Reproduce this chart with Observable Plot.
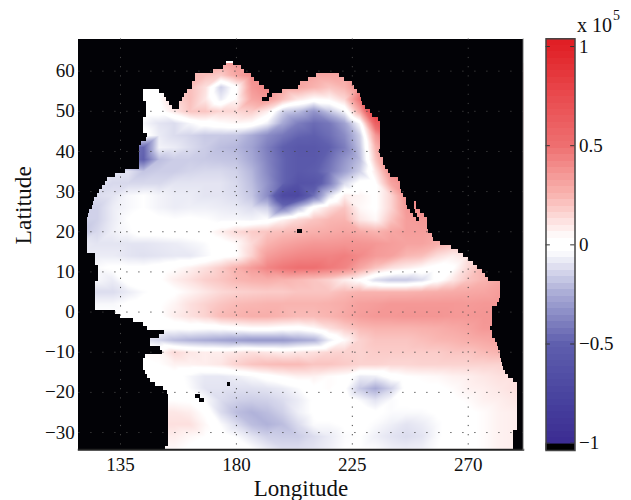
<!DOCTYPE html>
<html><head><meta charset="utf-8">
<script src="https://cdn.jsdelivr.net/npm/d3@7"></script>
<script src="https://cdn.jsdelivr.net/npm/@observablehq/plot@0.6"></script>
<style>html,body{margin:0;padding:0;background:#fff}#c{position:relative;width:631px;height:500px}#c svg{position:absolute;left:0;top:0;background:transparent!important}</style>
</head><body><div id="c"></div>
<script>
const lonGrid = [120,126,132,138,144,150,156,162,168,174,180,186,192,198,204,210,216,222,228,234,240,246,252,258,264,270,276,282,288,294];
const latGrid = [62,59,56,53,50,47,44,41,38,35,32,29,26,23,20,17,14,11,8,5,2,-1,-4,-7,-10,-13,-16,-19,-22,-25,-28,-31,-34];
const r62 = [0,0,0,0,0,0,0,.2,.25,.3,.35,.35,.35,.35,.35,.35,.35,.35,.35,.35,.35,.35,.35,.35,.35,.35,.35,.35,.35,.35];
const r59 = [.02,.02,.02,.02,.02,.02,.1,.25,.22,.18,.3,.4,.4,.35,.3,.3,.3,.3,.35,.5,.5,.5,.5,.5,.5,.5,.5,.5,.5,.5];
const r56 = [.02,.02,.02,.02,.02,.02,.1,.22,.12,-.15,.02,.35,.42,.3,.3,.25,.2,.25,.4,.6,.6,.6,.6,.6,.6,.6,.6,.6,.6,.6];
const r53 = [0,0,0,0,0,.03,.15,.22,.1,-.08,.05,.3,.35,.22,.1,.03,.05,.15,.5,.9,.9,.9,.9,.9,.9,.9,.9,.9,.9,.9];
const r50 = [0,0,0,0,0,0,.1,.2,.2,.15,.15,.18,.08,-.15,-.2,-.32,-.18,-.05,.3,.9,.9,.9,.9,.9,.9,.9,.9,.9,.9,.9];
const r47 = [-.05,-.05,-.05,-.05,-.05,-.1,-.12,-.05,0,.03,.05,.03,-.07,-.26,-.4,-.46,-.42,-.28,-.03,.6,.7,.7,.7,.7,.7,.7,.7,.7,.7,.7];
const r44 = [0,0,0,0,0,-.08,-.12,-.14,-.17,-.17,-.18,-.25,-.35,-.42,-.48,-.5,-.45,-.35,-.15,.35,.6,.6,.6,.6,.6,.6,.6,.6,.6,.6];
const r41 = [-.4,-.4,-.4,-.4,-.48,-.06,-.08,-.12,-.16,-.2,-.22,-.28,-.4,-.5,-.57,-.57,-.5,-.4,-.18,.25,.45,.45,.45,.45,.45,.45,.45,.45,.45,.45];
const r38 = [-.4,-.4,-.4,-.4,-.5,-.2,-.16,-.16,-.17,-.18,-.19,-.26,-.38,-.48,-.56,-.56,-.45,-.32,-.2,.2,.45,.45,.45,.45,.45,.45,.45,.45,.45,.45];
const r35 = [-.1,-.1,-.1,-.1,-.18,-.16,-.16,-.14,-.13,-.13,-.15,-.22,-.36,-.48,-.56,-.52,-.42,-.28,-.15,.1,.4,.45,.45,.45,.45,.45,.45,.45,.45,.45];
const r32 = [-.1,-.1,-.13,-.13,-.13,-.13,-.1,-.1,-.1,-.1,-.13,-.2,-.33,-.48,-.62,-.6,-.4,-.12,0,.02,.3,.4,.4,.4,.4,.4,.4,.4,.4,.4];
const r29 = [-.12,-.12,-.1,-.05,-.03,-.06,-.08,-.08,-.1,-.1,-.12,-.18,-.35,-.7,-.72,-.45,-.12,.08,.06,.02,.15,.38,.4,.4,.4,.4,.4,.4,.4,.4];
const r26 = [-.15,-.15,-.08,-.05,-.03,-.06,-.08,-.07,-.07,-.08,-.09,-.12,-.15,-.42,-.2,.02,.12,.2,.05,.02,.15,.35,.4,.4,.4,.4,.4,.4,.4,.4];
const r23 = [-.15,-.15,-.08,-.03,0,-.02,-.03,-.02,-.03,-.05,-.05,-.06,-.03,.06,.14,.2,.24,.25,.1,.05,.2,.33,.35,.35,.35,.35,.35,.35,.35,.35];
const r20 = [-.18,-.13,-.07,-.04,0,0,.01,.01,.02,.08,.14,.18,.2,.22,.24,.26,.28,.3,.28,.25,.3,.33,.33,.32,.32,.32,.32,.32,.32,.32];
const r17 = [-.08,-.1,-.1,-.1,-.1,-.09,-.08,-.06,-.04,0,.04,.14,.25,.3,.33,.35,.35,.36,.36,.35,.33,.31,.31,.27,.22,.22,.22,.22,.22,.22];
const r14 = [-.08,-.08,-.08,-.1,-.11,-.1,-.09,-.09,-.05,0,.03,.16,.33,.38,.41,.42,.42,.44,.4,.34,.32,.24,.22,.13,.08,.12,.12,.12,.12,.12];
const r11 = [-.04,-.04,-.02,-.02,-.02,0,.03,.07,.12,.18,.26,.34,.42,.47,.5,.5,.46,.42,.3,.2,.12,.08,.04,0,.02,.15,.25,.25,.25,.25];
const r8  = [-.05,-.05,-.08,0,.01,.02,.08,.12,.17,.2,.24,.26,.27,.25,.23,.2,.16,.08,.02,-.12,-.17,-.17,-.12,0,.1,.2,.25,.3,.3,.3];
const r5  = [-.12,-.12,-.12,-.08,-.04,-.01,.02,.06,.1,.14,.16,.17,.18,.18,.2,.2,.2,.23,.25,.25,.25,.25,.26,.27,.28,.29,.3,.33,.33,.33];
const r2  = [-.05,-.05,-.05,-.02,0,.02,.06,.12,.16,.2,.23,.24,.25,.25,.25,.25,.26,.28,.32,.33,.35,.35,.35,.35,.35,.34,.35,.35,.35,.35];
const r_1 = [-.02,-.02,-.02,-.02,0,.02,.08,.12,.16,.23,.25,.27,.27,.25,.23,.23,.25,.29,.33,.35,.35,.36,.36,.36,.35,.35,.36,.36,.36,.36];
const r_4 = [0,0,0,0,0,-.02,-.02,-.01,-.02,-.01,.01,.03,.03,.01,0,.04,.12,.18,.23,.25,.25,.25,.26,.27,.29,.31,.35,.35,.35,.35];
const r_7 = [-.1,-.1,-.1,-.1,-.1,-.14,-.2,-.23,-.25,-.27,-.29,-.31,-.31,-.31,-.27,-.24,-.08,.04,.16,.2,.2,.2,.22,.24,.25,.27,.29,.31,.31,.31];
const r_10= [.05,.05,.05,.05,.05,.05,.14,.1,.08,.08,.1,.12,.1,.08,.1,.12,.15,.16,.16,.18,.18,.18,.18,.18,.2,.2,.23,.25,.25,.25];
const r_13= [0,0,0,0,0,.03,.07,.07,.08,.1,.16,.2,.22,.23,.23,.2,.2,.18,.16,.16,.15,.15,.16,.16,.16,.16,.16,.16,.16,.16];
const r_16= [0,0,0,0,0,0,0,-.05,-.09,-.09,-.07,-.04,0,.04,.07,.07,.04,.02,-.08,-.07,0,.03,.04,.05,.07,.08,.1,.12,.12,.12];
const r_19= [0,0,0,0,0,0,.02,-.04,-.1,-.1,-.11,-.11,-.1,-.08,-.04,.02,.04,-.02,-.17,-.25,-.15,0,.02,.02,.04,.07,.08,.1,.12,.12];
const r_22= [.03,.03,.03,.03,.03,.03,.03,.02,-.04,-.12,-.15,-.16,-.15,-.12,-.08,-.02,.02,.02,-.04,-.1,-.04,-.02,-.01,0,.02,.04,.07,.08,.1,.1];
const r_25= [.1,.1,.1,.1,.1,.1,.1,.08,.02,-.12,-.2,-.23,-.2,-.15,-.07,-.02,0,.02,.02,-.02,-.04,-.04,-.04,-.02,0,.02,.04,.07,.08,.08];
const r_28= [.12,.12,.12,.12,.12,.12,.12,.12,.05,-.04,-.12,-.2,-.23,-.2,-.12,-.04,-.04,-.02,-.02,-.04,-.07,-.1,-.08,-.04,0,.02,.04,.07,.08,.08];
const r_31= [.08,.08,.08,.08,.08,.08,.08,.05,.03,0,-.04,-.1,-.15,-.16,-.16,-.12,-.08,-.04,-.03,-.07,-.1,-.12,-.1,-.04,0,.02,.04,.07,.08,.08];
const r_34= [.05,.05,.05,.05,.05,.05,.05,.02,0,0,0,-.03,-.08,-.12,-.12,-.1,-.07,-.03,-.03,-.04,-.07,-.08,-.07,-.03,0,.02,.04,.07,.08,.08];
const valueRows = [r62,r59,r56,r53,r50,r47,r44,r41,r38,r35,r32,r29,r26,r23,r20,r17,r14,r11,r8,r5,r2,r_1,r_4,r_7,r_10,r_13,r_16,r_19,r_22,r_25,r_28,r_31,r_34];

// ocean extent per 1-degree latitude row
const coastLat = [62,61,60,59,58,57,56,55,54,53,52,51,50,49,48,47,46,45,44,43,42,41,40,39,38,37,36,35,34,33,32,31,30,29,28,27,26,25,24,23,22,21,20,19,18,17,16,15,14,13,12,11,10,9,8,7,6,5,4,3,2,1,0,-1,-2,-3,-4,-5,-6,-7,-8,-9,-10,-11,-12,-13,-14,-15,-16,-17,-18,-19,-20,-21,-22,-23,-24,-25,-26,-27,-28,-29,-30,-31,-32,-33,-34];
const coastWest = [176,175,171,164,164,163,163,144,144,144,145,145,145,145,144,144,144,144,145.5,145,143,142.5,142.5,142.5,142.5,142.5,142.5,137,133,130,129,128,127,126,125,124.5,124,123,122.5,122,122,122,122,122,122,122,122,122.3,125.3,125.3,125.3,126.5,126.5,126.5,126.5,125.3,125.3,125.3,125.3,125.3,125.3,125.3,133,135,140,144,145.6,152,150,146.7,146.7,150.5,151.2,144.7,143.8,143.8,143.8,144.7,145.6,146.6,148.6,151.8,153.4,153.8,153.8,153.8,153.8,153.8,153.8,153.8,153.8,153.8,153.8,153.8,153.8,153.8,152.5];
const coastEast = [179,182,183,220,222,225,226,227,228,228.5,229,230,232,233,235,236,236,236,236,236,236,236,235.5,236,237,237,238,239,240,243,243.7,243.7,244,245,246,250,250,251.5,253,254,254,254,254.5,256,256.5,259.2,263.5,266.4,268.3,270.2,272.2,273.7,275.4,276.7,278,282.5,282.5,282.5,282.5,282.3,281.2,279.3,279.3,279.3,279.3,279.3,278.6,279.4,279.4,280.6,281.2,281.9,282.5,282.5,282.8,283.2,283.8,284.5,285.8,287.7,289,289.3,289.3,289.3,289.3,289.3,289.3,289.3,289.3,289.3,289.3,289.3,287.7,287.7,287.7,287.7,287.7];
// land inside those extents: bays, island chains, Baja gulf and small islands
const gapLat  = [59,58,57,56,55,55,54,54,53,53,52,51,27,26,25,24,23,-18,-21,-22,20];
const gapWest = [186,187,189,191,150,193,152,192,153,190,154,155,246,246.5,247.5,248.6,250,176.4,164,165.5,203.6];
const gapEast = [211,208,205,204,161,198,160,194,159,193,158,158,249,249,249.5,250.4,251,177.8,166,167.5,205.5];

const lonTicks = [135,180,225,270];
const latTicks = [-30,-20,-10,0,10,20,30,40,50,60];
const barTicks = [-1,-0.5,0,0.5,1];
const colorStops = [-1.04,-1,-0.75,-0.5,-0.25,-0.03,0.03,0.25,0.5,0.75,1,1.04];
const colorValues = ["#3a2b90","#3b2c92","#4a45a0","#5f5fae","#a9abd6","#ffffff","#ffffff","#f9b4b0","#ee6f70","#e94a4e","#e12026","#e01e24"];
const xDomain = [118.8,291.35], yDomain = [-34.3,68];
const minus = d => String(d).replace("-", "\u2212");
const serif = "'Liberation Serif','Times New Roman',serif";
const colorScale = {type:"linear", domain:colorStops, range:colorValues};

const pts = [];
latGrid.forEach((lat,i) => lonGrid.forEach((lon,j) => pts.push({lon,lat,v:valueRows[i][j]})));
const landRects = [];
coastLat.forEach((lat,i) => {
  landRects.push({x1:xDomain[0],x2:coastWest[i],y1:lat-.5,y2:lat+.5});
  landRects.push({x1:coastEast[i],x2:xDomain[1],y1:lat-.5,y2:lat+.5});
});
gapLat.forEach((lat,i) => landRects.push({x1:gapWest[i],x2:gapEast[i],y1:lat-.5,y2:lat+.5}));
landRects.push({x1:xDomain[0],x2:xDomain[1],y1:62.5,y2:yDomain[1]});

const main = Plot.plot({
  width:631, height:500, marginLeft:78.3, marginRight:108.3, marginTop:38.5, marginBottom:50.7,
  style:{fontFamily:serif, background:"transparent", color:"#111"},
  x:{domain:xDomain, axis:null}, y:{domain:yDomain, axis:null}, color:colorScale,
  marks:[
    Plot.raster(pts,{x:"lon",y:"lat",fill:"v",interpolate:"barycentric",pixelSize:1}),
    Plot.rect(landRects,{x1:"x1",x2:"x2",y1:"y1",y2:"y2",fill:"#020206",shapeRendering:"crispEdges"}),
    Plot.ruleX(lonTicks,{stroke:"#444",strokeWidth:1,strokeDasharray:"1.2 8"}),
    Plot.ruleY(latTicks,{stroke:"#444",strokeWidth:1,strokeDasharray:"1.2 10.8"}),
    Plot.frame({anchor:"bottom",stroke:"#222",strokeWidth:2}),
    Plot.frame({anchor:"right",stroke:"#999",strokeWidth:1}),
    Plot.axisX({ticks:lonTicks,tickSize:0,tickPadding:8,fontSize:19,label:null,tickFormat:minus,fill:"#111"}),
    Plot.axisY({ticks:latTicks,tickSize:0,tickPadding:4,fontSize:19,label:null,tickFormat:minus,fill:"#111"}),
    Plot.text(["Longitude"],{frameAnchor:"bottom",dy:46,fontSize:23,fill:"#111"}),
    Plot.text(["Latitude"],{frameAnchor:"left",dx:-55,rotate:-90,fontSize:23.5,fill:"#111"})
  ]
});

const levelCount = 64, barTop = 1.039, barBottom = -1.037;
const levelIndex = d3.range(levelCount);
const levelStep = (barTop-barBottom)/levelCount;
const levels = levelIndex.map(i => ({y1:barBottom+i*levelStep,y2:barBottom+(i+1)*levelStep,v:barBottom+(i+.5)*levelStep}));

const bar = Plot.plot({
  width:631, height:500, marginLeft:545.5, marginRight:56.5, marginTop:38.3, marginBottom:50,
  style:{fontFamily:serif, background:"transparent", color:"#111"},
  x:{domain:[0,1], axis:null}, y:{domain:[barBottom,barTop], axis:null}, color:colorScale,
  marks:[
    Plot.rect(levels,{y1:"y1",y2:"y2",fill:"v",shapeRendering:"crispEdges"}),
    Plot.rect(levels.slice(0,1),{y1:"y1",y2:"y2",fill:"#000"}),
    Plot.ruleY(barTicks,{x1:0,x2:.15,stroke:"#333"}),
    Plot.ruleY(barTicks,{x1:.85,x2:1,stroke:"#333"}),
    Plot.frame({stroke:"#444",strokeWidth:1.5}),
    Plot.axisY({anchor:"right",ticks:barTicks,tickSize:0,tickPadding:4,fontSize:19,label:null,tickFormat:minus,fill:"#111"}),
    Plot.text(["x 10"],{frameAnchor:"top-left",dx:31,dy:-21,fontSize:20,textAnchor:"start",fill:"#111"}),
    Plot.text(["5"],{frameAnchor:"top-left",dx:67,dy:-29,fontSize:14,textAnchor:"start",fill:"#111"})
  ]
});
const c = document.getElementById("c");
c.appendChild(main); c.appendChild(bar);
</script></body></html>
